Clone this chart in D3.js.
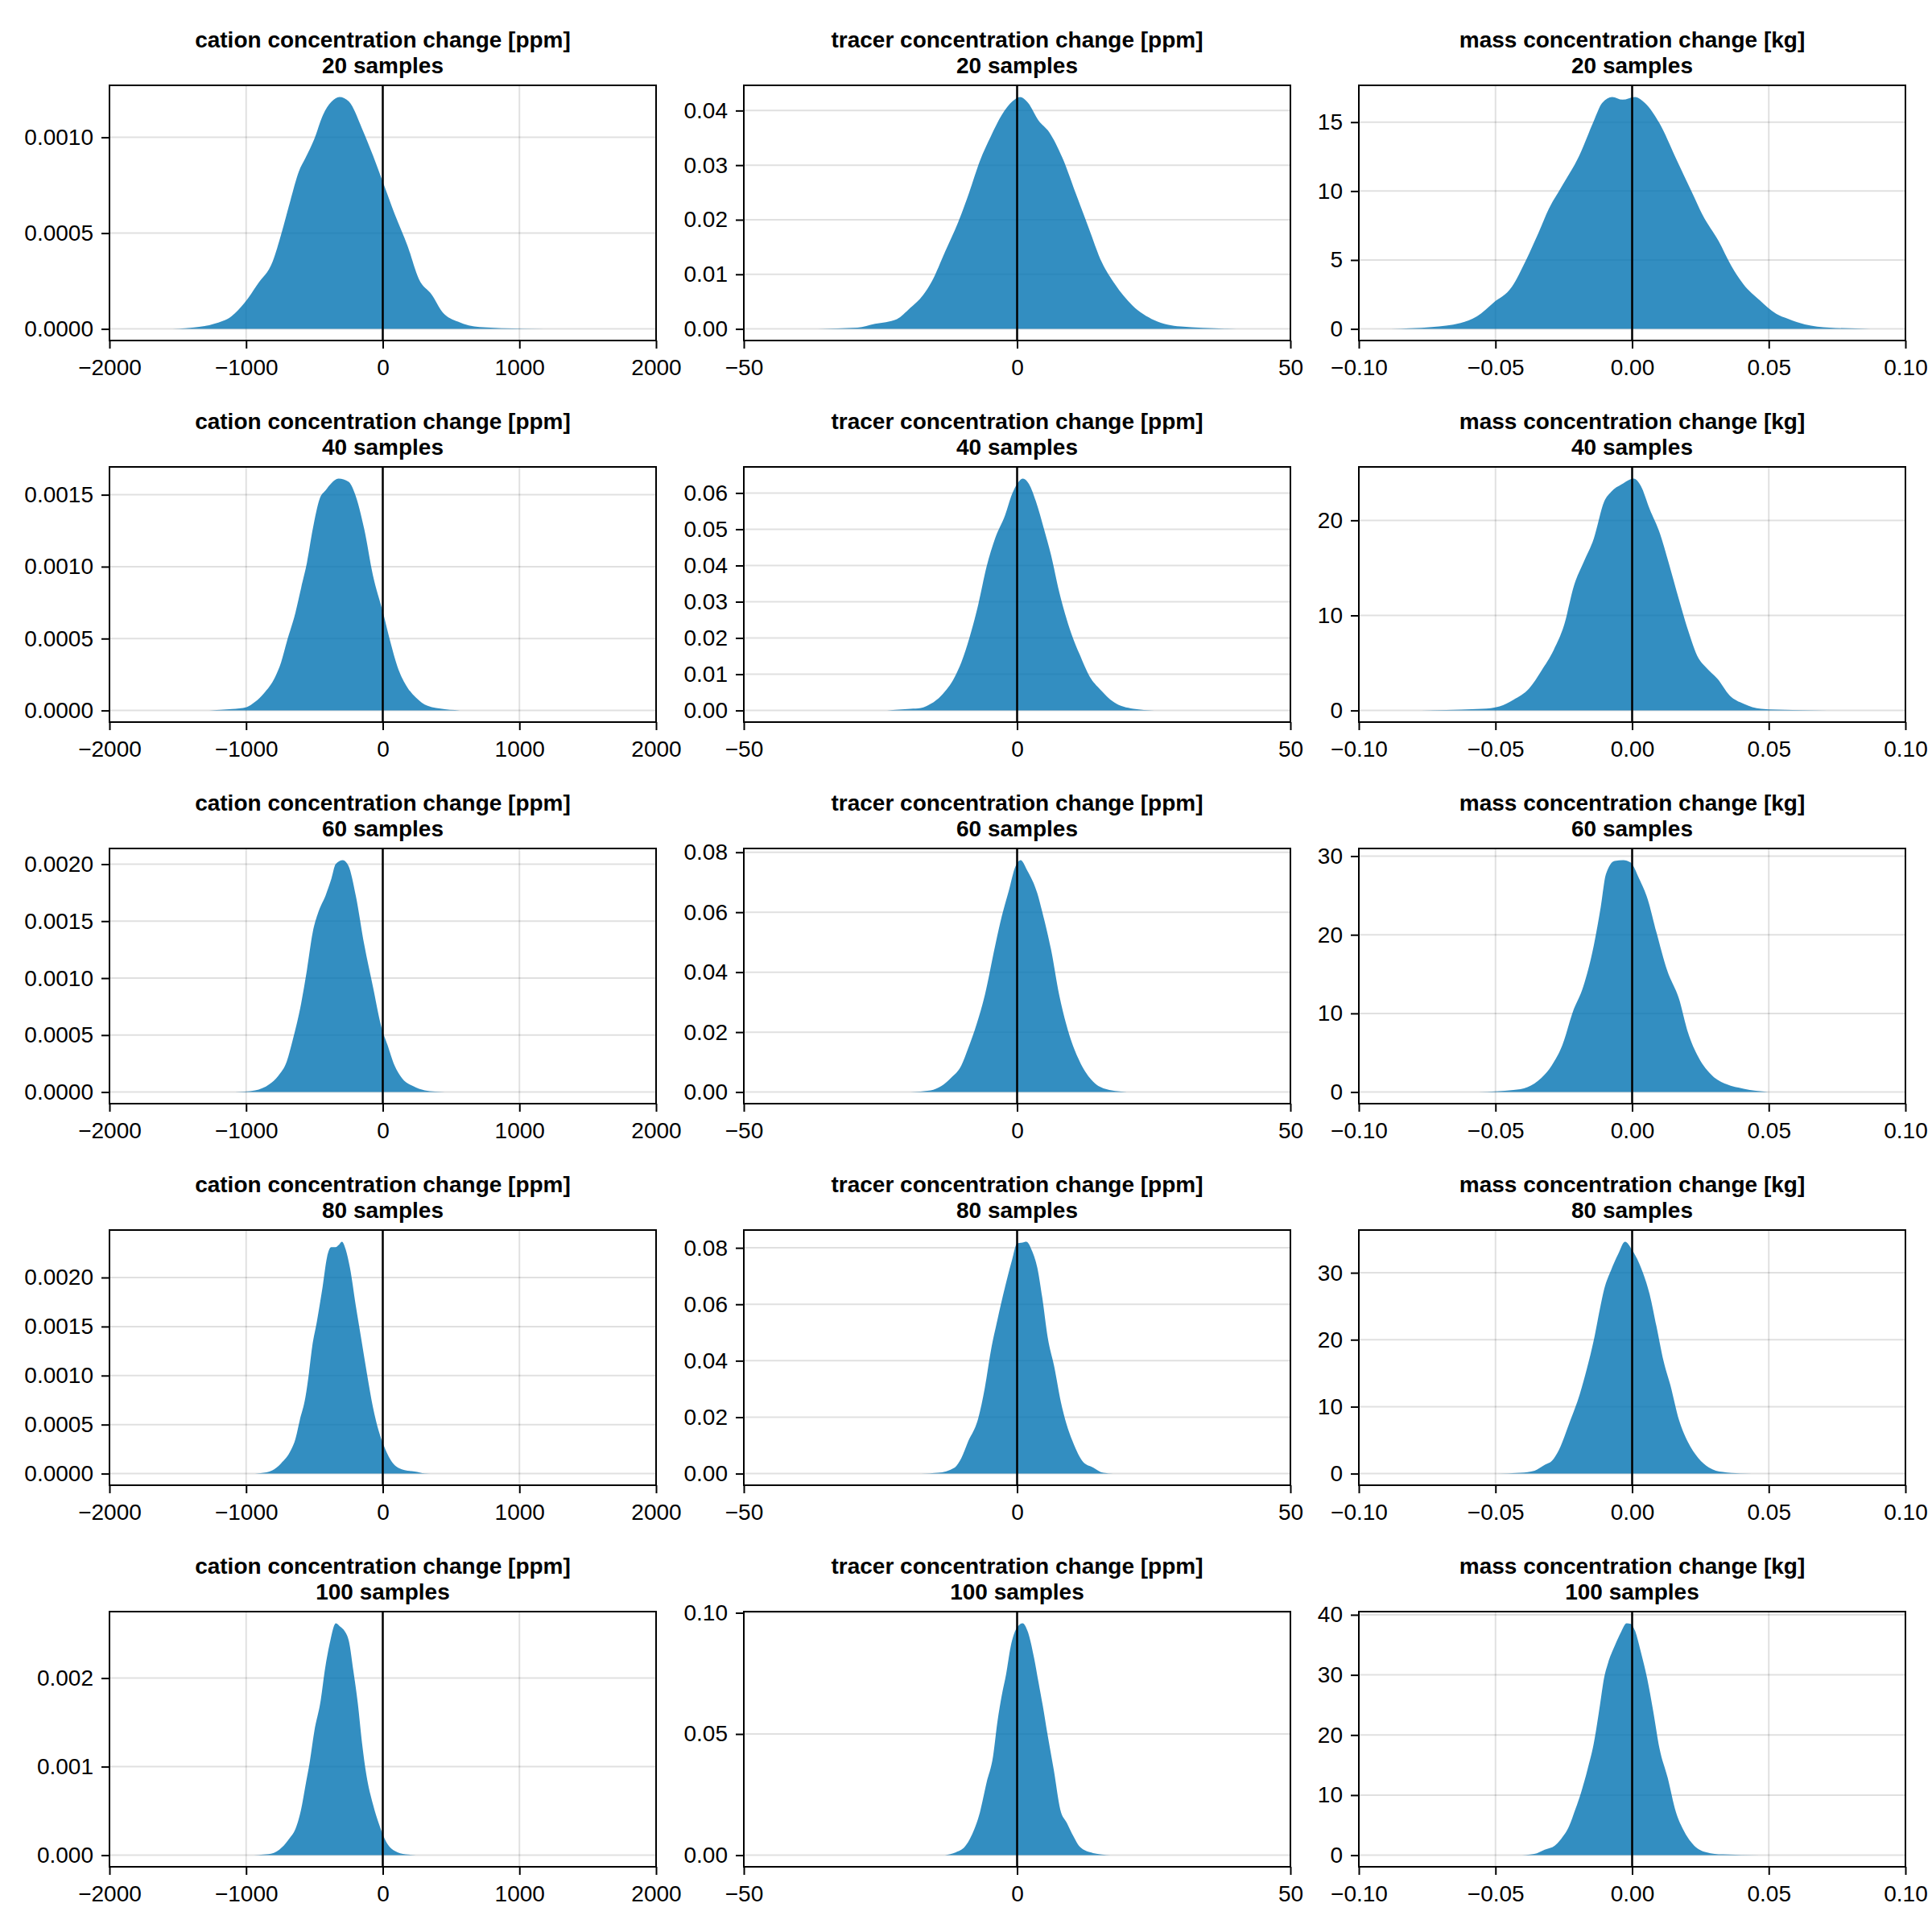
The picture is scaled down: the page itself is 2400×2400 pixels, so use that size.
<!DOCTYPE html>
<html><head><meta charset="utf-8">
<script src="https://cdn.jsdelivr.net/npm/d3@7"></script>
<style>body{margin:0;background:#fff} text{font-family:"Liberation Sans",Arial,Helvetica,sans-serif;fill:#000}</style>
</head><body><svg id="c" width="2400" height="2400" xmlns="http://www.w3.org/2000/svg"></svg>
<script>
// ---------- data ----------
const quantities = ["cation concentration change [ppm]", "tracer concentration change [ppm]", "mass concentration change [kg]"];
const sampleCounts = [20, 40, 60, 80, 100];

const cation20 = [[-1586,0],[-1394,0.000007],[-1235,0.000027],[-1108,0.000066],[-1012,0.000136],[-916,0.000234],[-805,0.000353],[-741,0.0005],[-677,0.000668],[-614,0.000822],[-566,0.000892],[-502,0.00099],[-438,0.001116],[-375,0.001186],[-317,0.001211],[-247,0.001186],[-152,0.001046],[-72,0.000906],[1,0.000766],[88,0.000598],[183,0.00043],[263,0.000262],[359,0.000178],[438,0.000087],[550,0.000038],[709,0.00001],[1028,0.0000014],[1346,0]];
const cation40 = [[-1270,0],[-1102,0.00001],[-997,0.000023],[-934,0.00006],[-871,0.000118],[-787,0.000234],[-744,0.000335],[-702,0.000479],[-639,0.000681],[-597,0.000854],[-555,0.001027],[-513,0.001258],[-461,0.001474],[-418,0.001532],[-376,0.001581],[-324,0.001613],[-250,0.00159],[-208,0.001518],[-135,0.001258],[-72,0.00094],[2,0.000681],[55,0.000479],[107,0.000306],[170,0.000176],[244,0.000089],[328,0.000032],[454,0.000009],[601,0]];
const cation60 = [[-1081,0],[-934,0.000015],[-829,0.000069],[-765,0.000142],[-702,0.00027],[-660,0.000452],[-597,0.00078],[-555,0.001071],[-513,0.001399],[-471,0.001581],[-418,0.001727],[-376,0.001872],[-345,0.002],[-292,0.002036],[-250,0.001982],[-198,0.001727],[-135,0.00129],[-72,0.000925],[-8,0.000561],[34,0.000415],[86,0.000233],[139,0.000124],[223,0.000051],[307,0.000015],[454,0]];
const cation80 = [[-977,0],[-893,0.000005],[-808,0.000033],[-745,0.000104],[-672,0.00024],[-640,0.00035],[-608,0.000541],[-566,0.00078],[-540,0.00103],[-517,0.00129],[-482,0.001552],[-440,0.001907],[-408,0.002207],[-377,0.002309],[-345,0.002309],[-324,0.00233],[-299,0.002366],[-272,0.00229],[-240,0.002098],[-198,0.001716],[-156,0.001361],[-114,0.001005],[-72,0.000678],[-29,0.000432],[13,0.000268],[76,0.000104],[160,0.000036],[234,0.000022],[307,0.000003],[392,0]];
const cation100 = [[-980,0],[-837,0.000012],[-757,0.000063],[-693,0.000169],[-630,0.000334],[-598,0.000515],[-566,0.000786],[-534,0.001057],[-502,0.001389],[-454,0.00175],[-422,0.00211],[-390,0.00238],[-343,0.00262],[-311,0.00258],[-279,0.00253],[-247,0.00241],[-215,0.00208],[-183,0.00172],[-152,0.00127],[-120,0.000907],[-72,0.000575],[-24,0.000334],[24,0.000154],[88,0.000048],[167,0.000009],[295,0]];

const tracer20 = [[-37.9,0],[-29.2,0.00025],[-26,0.00093],[-22,0.0018],[-19.6,0.0038],[-17.2,0.0062],[-15.6,0.0087],[-13.2,0.0141],[-10.8,0.0195],[-8.8,0.0249],[-6.8,0.0308],[-4.8,0.0353],[-2.8,0.0392],[-0.84,0.0417],[0.5,0.0425],[2.0,0.0414],[3.9,0.0382],[5.9,0.036],[8.3,0.0313],[10.7,0.0249],[13.1,0.0185],[15.5,0.0122],[17.9,0.0082],[21.1,0.0043],[25.1,0.0016],[29.9,0.00044],[37.9,0.00005],[42,0]];
const tracer40 = [[-23.8,0],[-19.5,0.00046],[-17.6,0.00069],[-15.8,0.00183],[-13.9,0.0041],[-11.4,0.0093],[-10.2,0.01328],[-8.7,0.02015],[-7.1,0.0293],[-5.6,0.0396],[-4.0,0.0476],[-2.2,0.0539],[-0.93,0.0597],[0,0.0625],[1.05,0.064],[2.17,0.0625],[3.4,0.0579],[4.95,0.0499],[6.19,0.043],[7.7,0.0327],[9.9,0.0213],[11.4,0.0156],[13.3,0.0093],[15.2,0.0058],[17.6,0.0024],[21.3,0.00046],[25.1,0]];
const tracer60 = [[-19.5,0],[-15.8,0.00055],[-13.9,0.00194],[-12.1,0.0047],[-10.2,0.0089],[-9.0,0.0144],[-7.4,0.0227],[-5.9,0.0324],[-4.0,0.049],[-2.8,0.0587],[-1.55,0.067],[-0.3,0.0753],[0.62,0.0774],[1.86,0.0739],[3.7,0.0663],[4.6,0.0601],[6.2,0.0476],[7.7,0.0324],[9.3,0.0206],[11.1,0.0116],[13.3,0.0047],[15.8,0.00125],[20.1,0]];
const tracer80 = [[-17.6,0],[-14.5,0.00028],[-11.4,0.0022],[-10.2,0.0055],[-9.0,0.0112],[-7.1,0.0197],[-5.9,0.0305],[-4.8,0.0435],[-3.6,0.0545],[-2.2,0.0662],[-0.93,0.0757],[0,0.0816],[0.8,0.0818],[1.67,0.0822],[2.8,0.0786],[3.7,0.0729],[4.6,0.0624],[5.6,0.0482],[6.8,0.0378],[8.0,0.0254],[9.0,0.0178],[10.2,0.0112],[12.1,0.0041],[13.9,0.0022],[15.8,0.00028],[17.6,0]];
const tracer100 = [[-13.2,0],[-11.2,0.0012],[-9.6,0.0034],[-8.4,0.0078],[-6.8,0.0177],[-5.6,0.0298],[-4.4,0.0408],[-3.6,0.0551],[-2.8,0.066],[-2.0,0.0748],[-1.2,0.0858],[0.0,0.094],[1.0,0.0957],[2.0,0.0919],[3.1,0.0814],[3.9,0.0715],[4.7,0.0616],[5.5,0.0507],[6.7,0.0353],[7.9,0.0188],[9.1,0.0133],[10.3,0.0078],[11.5,0.0034],[13.9,0.00088],[17.1,0]];

const mass20 = [[-0.0883,0],[-0.0733,0.136],[-0.0628,0.43],[-0.0568,0.91],[-0.0508,1.89],[-0.044,3.05],[-0.0388,5.0],[-0.0343,6.95],[-0.0305,8.7],[-0.026,10.25],[-0.0193,12.59],[-0.014,15.1],[-0.011,16.38],[-0.0073,16.83],[-0.0035,16.63],[0.001,16.83],[0.0047,16.38],[0.01,14.92],[0.016,12.39],[0.022,9.86],[0.0257,8.3],[0.0317,6.36],[0.0362,4.61],[0.0407,3.25],[0.0467,2.08],[0.0527,1.1],[0.0572,0.72],[0.0632,0.33],[0.0722,0.1],[0.0872,0]];
const mass40 = [[-0.0817,0],[-0.0625,0.09],[-0.0549,0.17],[-0.0485,0.44],[-0.0434,1.13],[-0.0377,2.31],[-0.0332,4.18],[-0.0287,6.36],[-0.0249,8.98],[-0.0211,13.3],[-0.0179,15.5],[-0.014,18.1],[-0.0102,22.0],[-0.0077,23.0],[-0.0038,23.8],[0.0006,24.4],[0.0032,23.6],[0.0064,21.2],[0.0102,18.6],[0.0134,15.5],[0.0172,11.6],[0.0204,8.5],[0.0243,5.5],[0.0268,4.6],[0.0313,3.3],[0.0357,1.57],[0.0408,0.7],[0.0472,0.17],[0.0587,0.04],[0.0715,0]];
const mass60 = [[-0.0562,0],[-0.0434,0.26],[-0.0383,0.63],[-0.0332,1.8],[-0.0294,3.4],[-0.0255,6.0],[-0.0217,10.2],[-0.0179,13.4],[-0.014,18.7],[-0.0115,23.5],[-0.0096,27.7],[-0.0064,29.4],[-0.0032,29.5],[-0.0006,29.2],[0.0026,27.1],[0.0057,24.5],[0.0089,20.3],[0.0128,15.5],[0.0172,11.8],[0.0204,7.6],[0.0243,4.4],[0.0294,2.06],[0.0345,1.0],[0.0408,0.42],[0.0498,0]];
const mass80 = [[-0.0497,0],[-0.0408,0.12],[-0.0357,0.44],[-0.0319,1.32],[-0.0293,1.93],[-0.0268,3.53],[-0.023,7.54],[-0.0191,11.95],[-0.0166,15.6],[-0.014,20.0],[-0.0115,25.2],[-0.0102,27.6],[-0.0077,30.4],[-0.0051,32.8],[-0.0026,34.65],[0,33.4],[0.0032,30.8],[0.0064,26.8],[0.0089,22.0],[0.0115,16.8],[0.014,13.2],[0.0172,7.94],[0.0204,4.73],[0.0242,2.33],[0.0281,0.92],[0.0332,0.24],[0.0395,0.04],[0.0485,0]];
const mass100 = [[-0.0418,0],[-0.0358,0.22],[-0.032,0.93],[-0.0283,1.6],[-0.026,2.7],[-0.023,4.9],[-0.0208,7.6],[-0.0185,10.7],[-0.0163,14.3],[-0.014,18.7],[-0.0118,24.9],[-0.0103,29.4],[-0.0088,32.0],[-0.0065,34.7],[-0.0043,36.9],[-0.002,38.6],[-0.0005,38.5],[0.001,37.4],[0.0032,33.8],[0.0055,29.4],[0.0077,24.0],[0.01,17.8],[0.013,12.9],[0.016,7.2],[0.019,4.0],[0.0227,1.6],[0.0272,0.49],[0.0332,0.13],[0.0467,0]];

const cationSeries = [cation20, cation40, cation60, cation80, cation100];
const tracerSeries = [tracer20, tracer40, tracer60, tracer80, tracer100];
const massSeries = [mass20, mass40, mass60, mass80, mass100];

const xDomains = [[-2000, 2000], [-50, 50], [-0.1, 0.1]];
const xTickLabels = [["−2000","−1000","0","1000","2000"], ["−50","0","50"], ["−0.10","−0.05","0.00","0.05","0.10"]];

const yTickLabelsCation = [["0.0000","0.0005","0.0010"], ["0.0000","0.0005","0.0010","0.0015"], ["0.0000","0.0005","0.0010","0.0015","0.0020"], ["0.0000","0.0005","0.0010","0.0015","0.0020"], ["0.000","0.001","0.002"]];
const yTickLabelsTracer = [["0.00","0.01","0.02","0.03","0.04"], ["0.00","0.01","0.02","0.03","0.04","0.05","0.06"], ["0.00","0.02","0.04","0.06","0.08"], ["0.00","0.02","0.04","0.06","0.08"], ["0.00","0.05","0.10"]];
const yTickLabelsMass = [["0","5","10","15"], ["0","10","20"], ["0","10","20","30"], ["0","10","20","30"], ["0","10","20","30","40"]];

// ---------- layout ----------
const colLeft = [136, 924, 1688];
const panelW = 679, panelH = 317;
const rowTop0 = 106, rowPitch = 474;
const fillColor = "#0072B2";
const tickFont = 28;
const num = s => +s.replace("−", "-");

const svg = d3.select("#c");
svg.append("rect").attr("width", 2400).attr("height", 2400).attr("fill", "#fff");

const seriesByCol = [cationSeries, tracerSeries, massSeries];
const yLabelsByCol = [yTickLabelsCation, yTickLabelsTracer, yTickLabelsMass];

for (let r = 0; r < sampleCounts.length; r++) {
  for (let c = 0; c < 3; c++) {
    const data = seriesByCol[c][r];
    const left = colLeft[c], top = rowTop0 + r * rowPitch;
    const g = svg.append("g").attr("transform", `translate(${left},${top})`);
    const x = d3.scaleLinear().domain(xDomains[c]).range([0, panelW]);
    const peak = d3.max(data, d => d[1]);
    const y = d3.scaleLinear().domain([-0.05 * peak, 1.05 * peak]).range([panelH, 0]);
    const xt = xTickLabels[c].map(num);
    const yl = yLabelsByCol[c][r];
    const yt = yl.map(num);

    const clipId = `clip${r}_${c}`;
    g.append("clipPath").attr("id", clipId).append("rect").attr("width", panelW).attr("height", panelH);
    const inner = g.append("g").attr("clip-path", `url(#${clipId})`);

    // grid
    inner.selectAll(".gx").data(xt).join("line")
      .attr("x1", d => x(d)).attr("x2", d => x(d)).attr("y1", 0).attr("y2", panelH)
      .attr("stroke", "#000").attr("stroke-opacity", 0.12).attr("stroke-width", 2);
    inner.selectAll(".gy").data(yt).join("line")
      .attr("y1", d => y(d)).attr("y2", d => y(d)).attr("x1", 0).attr("x2", panelW)
      .attr("stroke", "#000").attr("stroke-opacity", 0.12).attr("stroke-width", 2);

    // density fill
    const area = d3.area().x(d => x(d[0])).y0(y(0)).y1(d => y(d[1])).curve(d3.curveMonotoneX);
    inner.append("path").datum(data).attr("d", area).attr("fill", fillColor).attr("fill-opacity", 0.8);

    // zero line
    inner.append("line").attr("x1", x(0)).attr("x2", x(0)).attr("y1", 0).attr("y2", panelH)
      .attr("stroke", "#000").attr("stroke-width", 2.5);

    // spine
    g.append("rect").attr("width", panelW).attr("height", panelH).attr("fill", "none")
      .attr("stroke", "#000").attr("stroke-width", 2);

    // x ticks
    const xa = d3.axisBottom(x).tickValues(xt).tickFormat((d, i) => xTickLabels[c][i]).tickSize(10).tickPadding(13);
    const gx = g.append("g").attr("transform", `translate(0,${panelH})`).call(xa);
    gx.select(".domain").remove();
    gx.selectAll(".tick line").attr("stroke", "#000").attr("stroke-width", 2);
    gx.selectAll(".tick text").attr("font-size", tickFont).attr("font-family", "Liberation Sans, Arial, sans-serif").attr("fill", "#000");

    // y ticks
    const ya = d3.axisLeft(y).tickValues(yt).tickFormat((d, i) => yl[i]).tickSize(10).tickPadding(10);
    const gy = g.append("g").call(ya);
    gy.select(".domain").remove();
    gy.selectAll(".tick line").attr("stroke", "#000").attr("stroke-width", 2);
    gy.selectAll(".tick text").attr("font-size", tickFont).attr("font-family", "Liberation Sans, Arial, sans-serif").attr("fill", "#000");

    // title
    g.append("text").attr("x", panelW / 2).attr("y", -47).attr("text-anchor", "middle")
      .attr("font-size", 28).attr("font-weight", "bold").text(quantities[c]);
    g.append("text").attr("x", panelW / 2).attr("y", -15).attr("text-anchor", "middle")
      .attr("font-size", 28).attr("font-weight", "bold").text(`${sampleCounts[r]} samples`);
  }
}
</script></body></html>
